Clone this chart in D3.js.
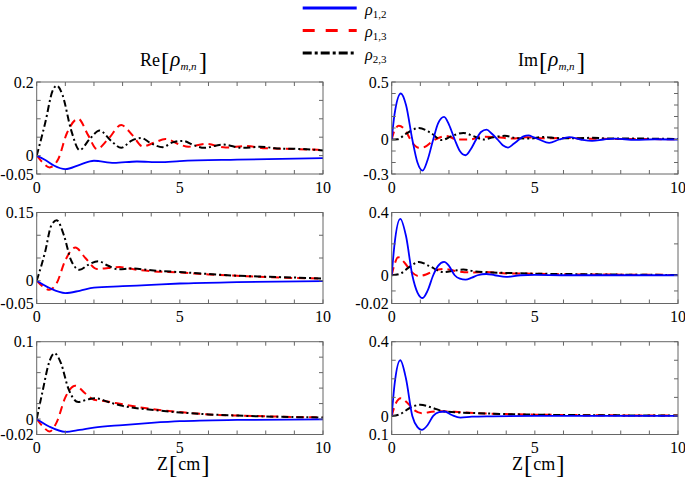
<!DOCTYPE html>
<html><head><meta charset="utf-8">
<script src="https://cdn.jsdelivr.net/npm/d3@7"></script>
<style>body{margin:0;background:#fff}svg{display:block}</style>
</head><body>
<svg id="c" width="685" height="478"></svg>
<script>
// ---- data: [z (cm), value] knots ----
const seriesSubs = ["1,2", "1,3", "2,3"];
const xTickLabels = [0, 5, 10];

// Row 1, Re
const re1_p12 = [[0,0],[0.3,-0.012],[0.6,-0.027],[1.0,-0.037],[1.5,-0.025],[2.0,-0.014],[2.7,-0.02],[3.5,-0.016],[4.3,-0.018],[5,-0.015],[7,-0.011],[10,-0.007]];
const re1_p13 = [[0,0],[0.2,-0.018],[0.45,-0.032],[0.75,-0.01],[1.05,0.06],[1.45,0.1],[1.8,0.055],[2.1,0.018],[2.5,0.045],[2.95,0.083],[3.35,0.055],[3.7,0.025],[4.1,0.035],[4.5,0.045],[5.0,0.03],[5.3,0.024],[5.9,0.032],[6.6,0.022],[7.3,0.026],[8,0.02],[9,0.018],[10,0.015]];
const re1_p23 = [[0,0],[0.3,0.09],[0.55,0.175],[0.7,0.19],[0.9,0.165],[1.2,0.07],[1.5,0.015],[1.85,0.045],[2.2,0.068],[2.6,0.04],[2.95,0.021],[3.3,0.04],[3.65,0.048],[4.0,0.033],[4.4,0.023],[4.75,0.036],[5.1,0.04],[5.5,0.028],[5.85,0.021],[6.5,0.03],[7.2,0.021],[7.8,0.024],[8.5,0.019],[9.2,0.018],[10,0.014]];
// Row 1, Im
const im1_p12 = [[0,0],[0.1,0.22],[0.32,0.40],[0.5,0.3],[0.72,0],[0.9,-0.2],[1.08,-0.27],[1.25,-0.18],[1.45,0],[1.62,0.14],[1.83,0.196],[2.0,0.13],[2.2,0],[2.38,-0.1],[2.58,-0.137],[2.75,-0.09],[2.95,0],[3.12,0.065],[3.31,0.086],[3.5,0.05],[3.7,0],[3.88,-0.05],[4.06,-0.07],[4.25,-0.04],[4.45,0],[4.6,0.028],[4.78,0.036],[4.95,0.02],[5.15,0],[5.5,-0.03],[5.85,0],[6.2,0.02],[6.6,0],[7.0,-0.012],[7.4,0],[7.8,0.008],[8.5,-0.004],[9.2,0.002],[10,0]];
const im1_p13 = [[0,0],[0.1,0.08],[0.25,0.12],[0.45,0.09],[0.7,-0.02],[0.95,-0.072],[1.15,-0.065],[1.45,-0.01],[1.9,0.03],[2.3,0.0],[2.7,0.0],[3.2,0.025],[3.7,0.02],[4.2,0.008],[4.7,0.02],[5.3,0.01],[6,0.013],[7,0.006],[8,0.005],[10,0.002]];
const im1_p23 = [[0,0],[0.2,0.002],[0.5,0.05],[0.95,0.1],[1.35,0.06],[1.75,-0.005],[2.1,0.03],[2.5,0.057],[2.85,0.03],[3.2,0.0],[3.55,0.02],[3.95,0.032],[4.4,0.01],[4.8,0.008],[5.3,0.022],[5.8,0.012],[6.4,0.01],[7,0.015],[7.6,0.008],[8.5,0.008],[10,0.005]];
// Row 2, Re
const re2_p12 = [[0,0],[0.45,-0.016],[1.0,-0.027],[1.5,-0.022],[2.0,-0.015],[3,-0.012],[4,-0.009],[5,-0.006],[7,-0.003],[10,-0.001]];
const re2_p13 = [[0,0],[0.2,-0.012],[0.45,-0.02],[0.7,-0.005],[1.0,0.045],[1.35,0.073],[1.7,0.05],[2.1,0.026],[2.5,0.028],[2.9,0.03],[3.5,0.024],[4,0.021],[5,0.018],[6,0.014],[7,0.011],[8,0.008],[9,0.006],[10,0.005]];
const re2_p23 = [[0,0],[0.3,0.065],[0.5,0.12],[0.7,0.133],[0.95,0.1],[1.2,0.045],[1.5,0.024],[1.8,0.035],[2.15,0.043],[2.5,0.033],[2.85,0.025],[3.3,0.027],[4,0.023],[5,0.019],[6,0.015],[7,0.011],[8,0.009],[9,0.007],[10,0.005]];
// Row 2, Im
const im2_p12 = [[0,0],[0.1,0.2],[0.3,0.36],[0.5,0.25],[0.72,0],[0.9,-0.11],[1.08,-0.145],[1.25,-0.1],[1.45,0],[1.62,0.06],[1.83,0.085],[2.0,0.06],[2.2,0.0],[2.38,-0.022],[2.58,-0.028],[2.8,-0.015],[3.0,0.0],[3.3,0.008],[3.6,0.0],[4.0,-0.01],[4.5,0.0],[5,0.002],[6,0],[10,0]];
const im2_p13 = [[0,0],[0.1,0.07],[0.22,0.115],[0.45,0.08],[0.7,0.02],[0.95,-0.005],[1.2,0.005],[1.5,0.03],[1.85,0.04],[2.3,0.025],[2.8,0.018],[3.3,0.02],[4,0.012],[5,0.01],[6,0.006],[8,0.004],[10,0.002]];
const im2_p23 = [[0,0],[0.3,0.01],[0.6,0.05],[0.95,0.085],[1.3,0.06],[1.8,0.02],[2.2,0.03],[2.5,0.036],[2.9,0.025],[3.5,0.018],[4,0.015],[5,0.01],[6,0.008],[8,0.004],[10,0.002]];
// Row 3, Re
const re3_p12 = [[0,0],[0.45,-0.01],[1.0,-0.0165],[1.5,-0.014],[2,-0.011],[3,-0.0078],[4,-0.005],[5,-0.0028],[7,-0.0012],[10,-0.0004]];
const re3_p13 = [[0,0],[0.2,-0.009],[0.45,-0.016],[0.7,-0.004],[1.0,0.028],[1.35,0.043],[1.7,0.033],[2.0,0.025],[2.4,0.023],[3,0.019],[4,0.013],[5,0.009],[6,0.006],[7,0.0045],[8,0.0035],[10,0.002]];
const re3_p23 = [[0,0],[0.2,0.035],[0.45,0.075],[0.62,0.085],[0.85,0.072],[1.1,0.04],[1.45,0.022],[1.75,0.025],[2.05,0.027],[2.5,0.022],[3,0.017],[4,0.012],[5,0.0085],[6,0.006],[7,0.0045],[8,0.0033],[9,0.0025],[10,0.002]];
// Row 3, Im
const im3_p12 = [[0,0],[0.1,0.17],[0.3,0.30],[0.5,0.2],[0.72,0],[0.9,-0.06],[1.05,-0.075],[1.25,-0.05],[1.45,0],[1.65,0.02],[1.85,0.024],[2.1,0.005],[2.4,-0.009],[2.8,-0.004],[3.5,-0.002],[5,0],[10,0]];
const im3_p13 = [[0,0],[0.12,0.06],[0.32,0.095],[0.55,0.07],[0.8,0.03],[1.05,0.015],[1.4,0.022],[1.8,0.025],[2.4,0.02],[3,0.015],[4,0.01],[5,0.007],[7,0.004],[10,0.002]];
const im3_p23 = [[0,0],[0.3,0.01],[0.6,0.04],[1.0,0.06],[1.4,0.045],[1.8,0.025],[2.2,0.02],[3,0.015],[4,0.01],[5,0.007],[7,0.004],[10,0.002]];

// axis domains, ticks and tick labels
const yDomains  = [[-0.05,0.2],[-0.3,0.5],[-0.05,0.15],[-0.18,0.4],[-0.02,0.1],[-0.1,0.4]];
const yTicks    = [[-0.05,0,0.05,0.1,0.15,0.2],[-0.3,-0.2,-0.1,0,0.1,0.2,0.3,0.4,0.5],[-0.05,0,0.05,0.1,0.15],[-0.1,0,0.2,0.4],[-0.02,0,0.02,0.04,0.06,0.08,0.1],[-0.1,0,0.1,0.2,0.3,0.4]];
const yTickLabels = [[[0.2,"0.2"],[0,"0"],[-0.05,"-0.05"]],[[0.5,"0.5"],[0,"0"],[-0.3,"-0.3"]],[[0.15,"0.15"],[0,"0"],[-0.05,"-0.05"]],[[0.4,"0.4"],[0,"0"],[-0.18,"-0.02"]],[[0.1,"0.1"],[0,"0"],[-0.02,"-0.02"]],[[0.4,"0.4"],[0,"0"],[-0.1,"0.1"]]];
const panelSeries = [[re1_p12,re1_p13,re1_p23],[im1_p12,im1_p13,im1_p23],[re2_p12,re2_p13,re2_p23],[im2_p12,im2_p13,im2_p23],[re3_p12,re3_p13,re3_p23],[im3_p12,im3_p13,im3_p23]];

// ---- styles / layout ----
const colors = ["#0000ff", "#ff0000", "#000000"];
const dashes = [null, "8,5", "7,3,2,3"];
const widths = [1.8, 2, 2];
const colsX = [[36.7, 323], [391.7, 678]];
const rowsY = [[82, 174], [212.5, 303.5], [341.7, 434.5]];
const SERIF = "'Liberation Serif', 'Times New Roman', serif";
const frameColor = "#666";

const svg = d3.select("#c");
svg.append("rect").attr("width",685).attr("height",478).attr("fill","#fff");

panelSeries.forEach((series, i) => {
  const r = Math.floor(i / 2), c = i % 2;
  const [x0, x1] = colsX[c], [y0, y1] = rowsY[r];
  const x = d3.scaleLinear().domain([0, 10]).range([x0, x1]);
  const y = d3.scaleLinear().domain(yDomains[i]).range([y1, y0]);
  const g = svg.append("g");
  const cid = "clip" + i;
  svg.append("clipPath").attr("id", cid).append("rect")
    .attr("x", x0).attr("y", y0).attr("width", x1 - x0).attr("height", y1 - y0);

  const line = d3.line().x(d => x(d[0])).y(d => y(d[1])).curve(d3.curveMonotoneX);
  const lg = g.append("g").attr("clip-path", `url(#${cid})`);
  [1, 2, 0].forEach(k => {
    lg.append("path").datum(series[k]).attr("d", line)
      .attr("fill", "none").attr("stroke", colors[k]).attr("stroke-width", widths[k])
      .attr("stroke-dasharray", dashes[k]).attr("stroke-linejoin", "round");
  });

  // frame + inward ticks on all sides
  g.append("rect").attr("x", x0).attr("y", y0).attr("width", x1 - x0).attr("height", y1 - y0)
    .attr("fill", "none").attr("stroke", frameColor).attr("stroke-width", 1);
  const tl = 4;
  d3.range(0, 11).forEach(t => {
    g.append("line").attr("x1", x(t)).attr("x2", x(t)).attr("y1", y1).attr("y2", y1 - tl).attr("stroke", frameColor);
    g.append("line").attr("x1", x(t)).attr("x2", x(t)).attr("y1", y0).attr("y2", y0 + tl).attr("stroke", frameColor);
  });
  yTicks[i].forEach(t => {
    g.append("line").attr("x1", x0).attr("x2", x0 + tl).attr("y1", y(t)).attr("y2", y(t)).attr("stroke", frameColor);
    g.append("line").attr("x1", x1).attr("x2", x1 - tl).attr("y1", y(t)).attr("y2", y(t)).attr("stroke", frameColor);
  });
  // labels
  yTickLabels[i].forEach(([v, s]) => {
    g.append("text").attr("x", x0 - 3).attr("y", y(v)).attr("dy", "0.35em")
      .attr("text-anchor", "end").attr("font-family", SERIF).attr("font-size", 16).attr("fill", "#000").text(s);
  });
  xTickLabels.forEach(v => {
    g.append("text").attr("x", x(v)).attr("y", y1 + 13).attr("dy", "0.35em")
      .attr("text-anchor", "middle").attr("font-family", SERIF).attr("font-size", 16).attr("fill", "#000").text(v);
  });
});

// sequential rich text helper
function rich(x, yb, pieces) {
  let cx = x;
  pieces.forEach(p => {
    const t = svg.append("text").attr("x", cx).attr("y", yb + (p.dy || 0))
      .attr("font-family", SERIF).attr("font-size", p.size)
      .attr("font-style", p.italic ? "italic" : "normal").attr("fill", "#000").text(p.t);
    cx += t.node().getComputedTextLength() + (p.gap || 0);
  });
}
// titles
rich(140, 66, [{t:"Re",size:18,gap:1},{t:"[",size:25,dy:4,gap:1},{t:"ρ",size:21,italic:true},{t:"m,n",size:11,italic:true,dy:4,gap:2},{t:"]",size:25,dy:4}]);
rich(518, 66, [{t:"Im",size:18,gap:1},{t:"[",size:25,dy:4,gap:1},{t:"ρ",size:21,italic:true},{t:"m,n",size:11,italic:true,dy:4,gap:2},{t:"]",size:25,dy:4}]);
// x titles
rich(157, 470, [{t:"Z",size:18,gap:1},{t:"[",size:25,dy:3,gap:1},{t:"cm",size:18,gap:1},{t:"]",size:25,dy:3}]);
rich(512, 470, [{t:"Z",size:18,gap:1},{t:"[",size:25,dy:3,gap:1},{t:"cm",size:18,gap:1},{t:"]",size:25,dy:3}]);

// legend
const legY = [8, 30.5, 53];
seriesSubs.forEach((s, k) => {
  svg.append("line").attr("x1", 302.7).attr("x2", 356.7).attr("y1", legY[k]).attr("y2", legY[k])
    .attr("stroke", colors[k]).attr("stroke-width", 3)
    .attr("stroke-dasharray", k === 1 ? "12,11" : (k === 2 ? "9,3,3,3" : null));
  rich(365, legY[k] + 6.5, [{t:"ρ",size:16,italic:true},{t:s,size:11,dy:3}]);
});
</script>
</body></html>
